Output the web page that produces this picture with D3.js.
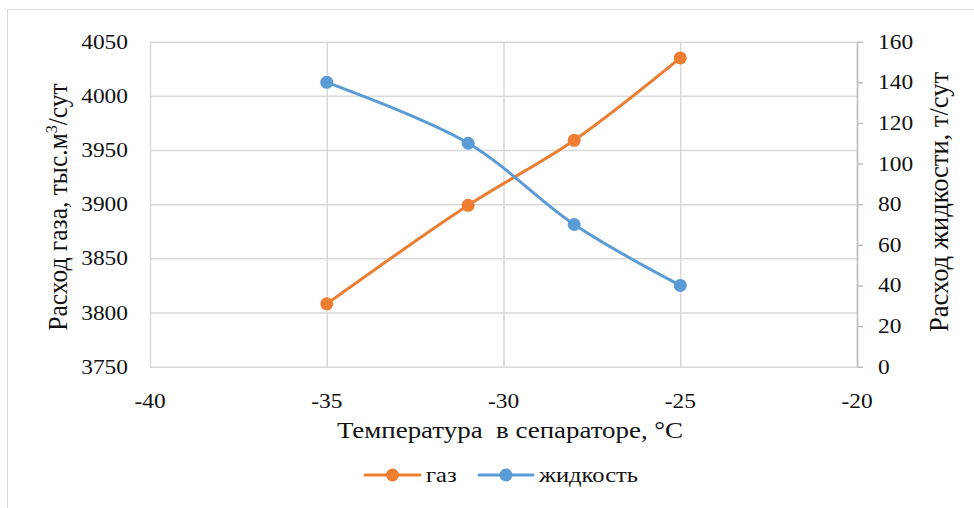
<!DOCTYPE html>
<html><head><meta charset="utf-8">
<script src="https://cdn.jsdelivr.net/npm/d3@7"></script>
<style>
html,body{margin:0;padding:0;background:#fff;}
text{font-family:"Liberation Serif","Times New Roman",serif;fill:#111;}
</style></head>
<body>
<svg id="chart" width="974" height="508"></svg>
<script>
const temps = [-35, -31, -28, -25];
const gas = [3808, 3899, 3959, 4035];
const liquid = [140, 110, 70, 40];
const xTicks = [-40, -35, -30, -25, -20];
const yLeftTicks = [3750, 3800, 3850, 3900, 3950, 4000, 4050];
const yRightTicks = [0, 20, 40, 60, 80, 100, 120, 140, 160];
const seriesNames = ["газ", "жидкость"];
const colors = ["#ED7D31", "#5B9BD5"];

const svg = d3.select("#chart");
const FONT = "Liberation Serif, Times New Roman, serif";
const L = 150, R = 857, T = 41.7, B = 366.7;
const SX = 1.17;

const x = d3.scaleLinear().domain([-40, -20]).range([L, R]);
const yL = d3.scaleLinear().domain([3750, 4050]).range([B, T]);
const yR = d3.scaleLinear().domain([0, 160]).range([B, T]);

// outer border
svg.append("rect").attr("x", 7.5).attr("y", 9.5).attr("width", 990).attr("height", 520)
  .attr("fill", "none").attr("stroke", "#d9d9d9").attr("stroke-width", 1);

const grid = "#d9d9d9";
const gy = svg.append("g").attr("transform", `translate(${L},0)`)
  .call(d3.axisLeft(yL).tickValues(yLeftTicks).tickSize(-(R - L)).tickFormat(""));
gy.select(".domain").remove();
gy.selectAll("line").attr("stroke", grid).attr("stroke-width", 1.5);
const gx = svg.append("g").attr("transform", `translate(0,${B})`)
  .call(d3.axisBottom(x).tickValues(xTicks).tickSize(-(B - T)).tickFormat(""));
gx.select(".domain").remove();
gx.selectAll("line").attr("stroke", grid).attr("stroke-width", 1.5);
const ar = svg.append("g").attr("transform", `translate(${R},0)`)
  .call(d3.axisRight(yR).tickValues(yRightTicks).tickSize(6).tickSizeOuter(0).tickFormat(""));
ar.select(".domain").attr("stroke", "#bfbfbf").attr("stroke-width", 1.5);
ar.selectAll("line").attr("stroke", "#bfbfbf").attr("stroke-width", 1.5);

function htext(g, px, py, str, anchor, fs) {
  return g.append("text").attr("transform", `translate(${px},${py}) scale(${SX},1)`)
    .attr("font-family", FONT).attr("text-anchor", anchor).attr("font-size", fs).text(str);
}
const labels = svg.append("g");
yLeftTicks.forEach(v => htext(labels, 128, yL(v) + 7, v, "end", 20));
yRightTicks.forEach(v => htext(labels, 878, yR(v) + 7, v, "start", 20));
xTicks.forEach(v => htext(labels, x(v), 408, v, "middle", 20));

htext(svg, 510, 438, "Температура  в сепараторе, °С", "middle", 23).attr("xml:space", "preserve");

// left title
const lt = svg.append("text").attr("transform", `translate(67,207) rotate(-90) scale(1,1.05)`)
  .attr("font-family", FONT).attr("text-anchor", "middle").attr("font-size", 25.5);
lt.append("tspan").text("Расход газа, тыс.м");
lt.append("tspan").attr("font-size", 16).attr("dy", -10).text("3");
lt.append("tspan").attr("dy", 10).text("/сут");
// right title
svg.append("text").attr("transform", `translate(948,202) rotate(-90) scale(1,1.05)`)
  .attr("font-family", FONT).attr("text-anchor", "middle").attr("font-size", 26.5).text("Расход жидкости, т/сут");

const line = (ys) => d3.line().x(d => x(d[0])).y(d => ys(d[1])).curve(d3.curveCatmullRom.alpha(0.5));
const series = [
  {name: seriesNames[0], vals: temps.map((t, i) => [t, gas[i]]), ys: yL, c: colors[0]},
  {name: seriesNames[1], vals: temps.map((t, i) => [t, liquid[i]]), ys: yR, c: colors[1]}
];
series.forEach(s => {
  svg.append("path").attr("d", line(s.ys)(s.vals)).attr("fill", "none")
    .attr("stroke", s.c).attr("stroke-width", 3).attr("stroke-linecap", "round");
  svg.append("g").selectAll("circle").data(s.vals).join("circle")
    .attr("cx", d => x(d[0])).attr("cy", d => s.ys(d[1])).attr("r", 6.5).attr("fill", s.c);
});

// legend
const legX = [365, 479];
const legW = [55, 54];
series.forEach((s, i) => {
  const g = svg.append("g");
  g.append("line").attr("x1", legX[i]).attr("x2", legX[i] + legW[i]).attr("y1", 475).attr("y2", 475)
    .attr("stroke", s.c).attr("stroke-width", 3).attr("stroke-linecap", "round");
  g.append("circle").attr("cx", legX[i] + legW[i] / 2).attr("cy", 475).attr("r", 6.5).attr("fill", s.c);
  htext(g, legX[i] + legW[i] + 6, 482, s.name, "start", 21);
});
</script>
</body></html>
